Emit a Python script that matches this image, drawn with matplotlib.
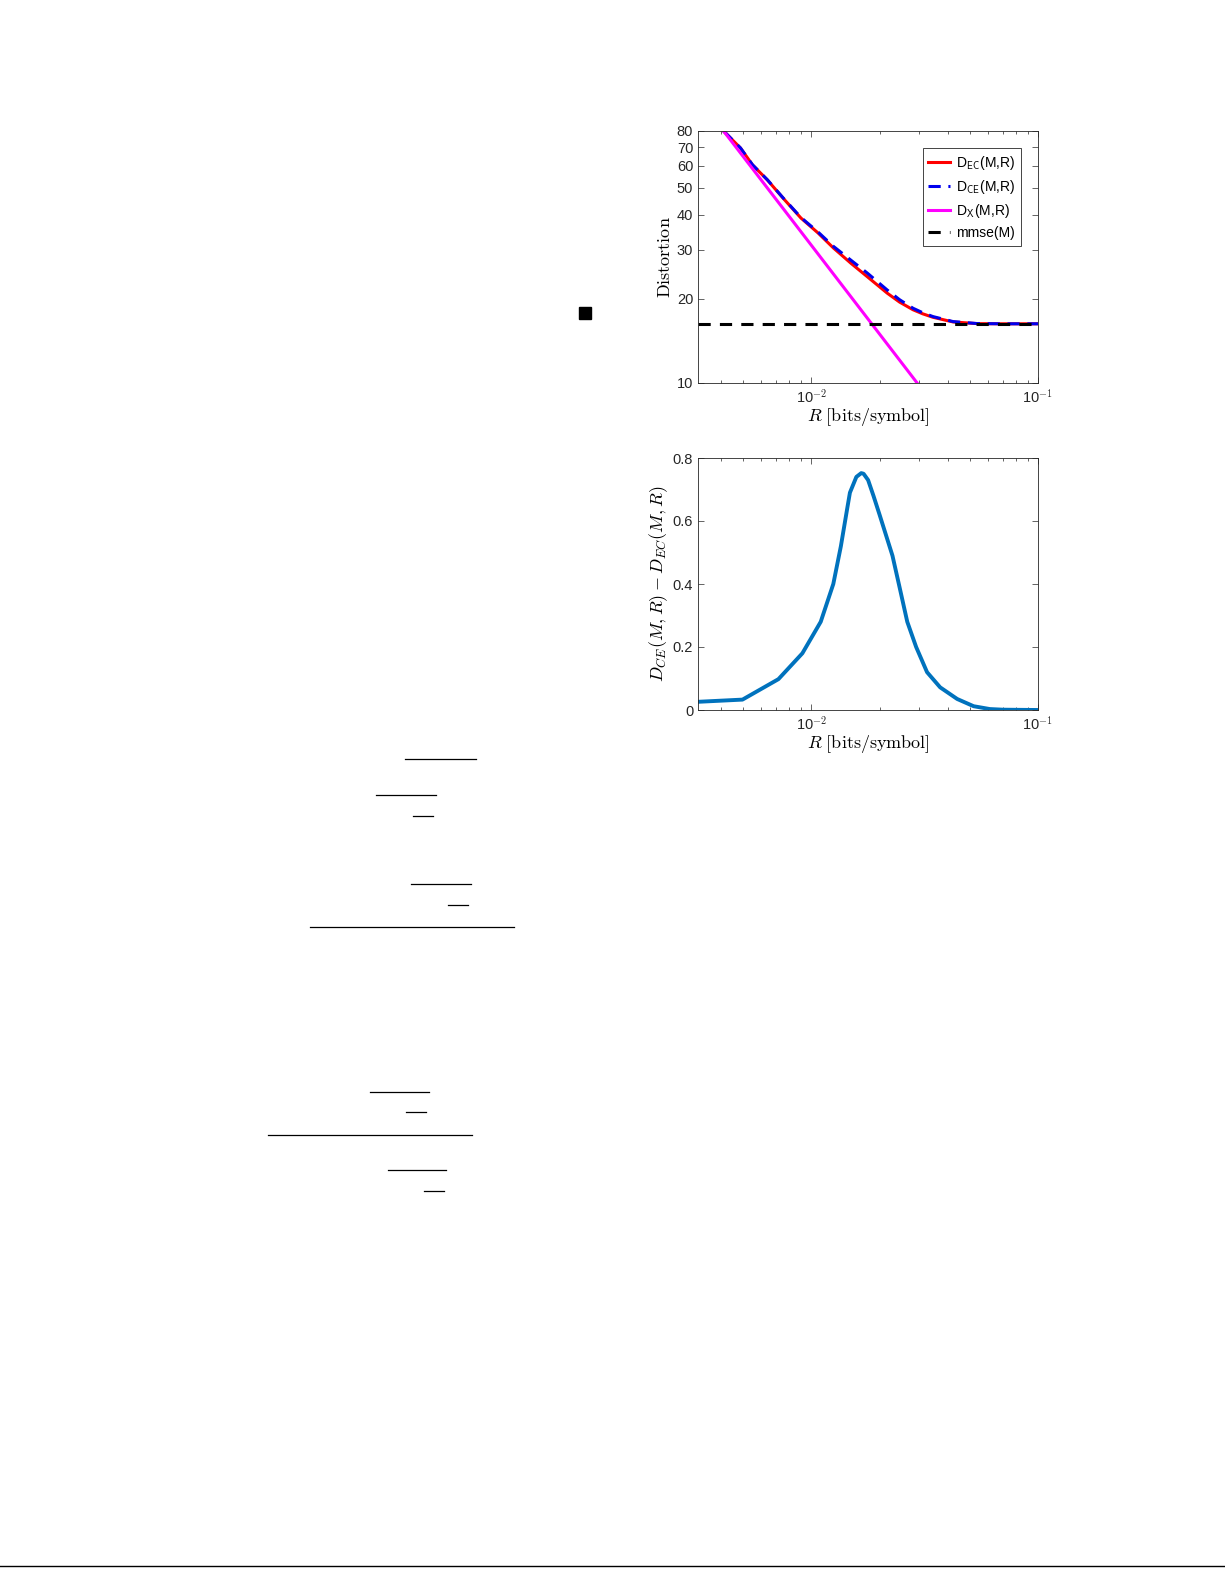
import matplotlib
matplotlib.use("Agg")
import matplotlib.pyplot as plt
from matplotlib.lines import Line2D
from matplotlib.patches import Rectangle
from matplotlib.ticker import FixedLocator, NullFormatter, LogLocator

plt.rcParams['mathtext.fontset'] = 'cm'
plt.rcParams['font.family'] = ['Liberation Sans', 'DejaVu Sans']

R = [0.0041, 0.00487, 0.0055, 0.0064, 0.0075, 0.009, 0.0107, 0.0125, 0.015, 0.0177,
     0.0216, 0.0245, 0.0281, 0.031, 0.0344, 0.0422, 0.054, 0.07, 0.1]
D_EC = [80, 69.5, 60.5, 53.4, 46, 39.0, 34.5, 30.5, 26.8, 24.0,
        21.0, 19.5, 18.3, 17.7, 17.2, 16.55, 16.32, 16.3, 16.3]
D_CE = [80.03, 69.53, 60.55, 53.48, 46.11, 39.18, 34.77, 30.9, 27.49, 24.73,
        21.55, 19.89, 18.53, 17.86, 17.3, 16.6, 16.33, 16.3, 16.3]
R_X = [0.0041, 0.0293]
D_X = [80, 10]
mmse = 16.3

R_diff = [0.00316, 0.00497, 0.00716, 0.00913, 0.011, 0.0125, 0.0135, 0.0144, 0.0148,
          0.0158, 0.0166, 0.0170, 0.0178, 0.0188, 0.0200, 0.0228, 0.0245, 0.0265,
          0.0290, 0.0324, 0.037, 0.044, 0.052, 0.0613, 0.07, 0.1]
diff = [0.026, 0.033, 0.098, 0.18, 0.28, 0.40, 0.52, 0.64, 0.69,
        0.74, 0.752, 0.75, 0.73, 0.68, 0.62, 0.49, 0.39, 0.28,
        0.20, 0.12, 0.072, 0.035, 0.012, 0.003, 0.001, 0.0]

fig = plt.figure(figsize=(12.25, 15.85), dpi=100)
W, H = 1225, 1585

def ax_at(l, t, r, b):
    return fig.add_axes([l / W, 1 - b / H, (r - l) / W, (b - t) / H])

def style(ax):
    for s in ax.spines.values():
        s.set_color('#262626'); s.set_linewidth(0.6)
    ax.tick_params(which='both', direction='in', top=True, right=True,
                   labelsize=10.5, colors='#262626', width=0.5)
    ax.tick_params(which='major', length=4)
    ax.tick_params(which='minor', length=2)

xlab = r'$R\ \mathrm{[bits/symbol]}$'
xtl = [r'10$^{\mathsf{-2}}$', r'10$^{\mathsf{-1}}$']

ax1 = ax_at(698, 131, 1038, 383)
ax1.plot(R, D_EC, color='#ff0000', lw=2.2, label=r'D$_{\mathsf{EC}}$(M,R)')
ax1.plot(R, D_CE, color='#0000ee', lw=2.2, ls=(0, (4, 2.5)), label=r'D$_{\mathsf{CE}}$(M,R)')
ax1.plot(R_X, D_X, color='#ff00ff', lw=2.2, label=r'D$_{\mathsf{X}}$(M,R)')
ax1.axhline(mmse, color='black', lw=2.2, ls=(0, (4, 3)), label='mmse(M)')
ax1.set_xscale('log'); ax1.set_yscale('log')
ax1.set_xlim(10 ** -2.5, 0.1); ax1.set_ylim(10, 80)
ax1.yaxis.set_major_locator(FixedLocator([10, 20, 30, 40, 50, 60, 70, 80]))
ax1.yaxis.set_minor_formatter(NullFormatter())
ax1.set_yticklabels(['10', '20', '30', '40', '50', '60', '70', '80'])
ax1.set_xticks([0.01, 0.1])
ax1.set_xticklabels(xtl)
ax1.xaxis.set_minor_locator(LogLocator(base=10, subs=range(2, 10)))
ax1.xaxis.set_minor_formatter(NullFormatter())
ax1.set_ylabel(r'$\mathrm{Distortion}$', fontsize=13, labelpad=2)
ax1.set_xlabel(xlab, fontsize=13, labelpad=0)
style(ax1)
leg = ax1.legend(loc='upper right', bbox_to_anchor=(0.97, 0.96), fontsize=10,
                 handlelength=1.6, handletextpad=0.4, borderpad=0.4,
                 labelspacing=0.45, fancybox=False, framealpha=1)
leg.get_frame().set_edgecolor('#262626'); leg.get_frame().set_linewidth(0.6)

ax2 = ax_at(698, 458, 1038, 710)
ax2.plot(R_diff, diff, color='#0072bd', lw=2.8)
ax2.set_xscale('log')
ax2.set_xlim(10 ** -2.5, 0.1); ax2.set_ylim(0, 0.8)
ax2.set_yticks([0, 0.2, 0.4, 0.6, 0.8])
ax2.set_yticklabels(['0', '0.2', '0.4', '0.6', '0.8'])
ax2.set_xticks([0.01, 0.1])
ax2.set_xticklabels(xtl)
ax2.xaxis.set_minor_locator(LogLocator(base=10, subs=range(2, 10)))
ax2.xaxis.set_minor_formatter(NullFormatter())
ax2.set_ylabel(r'$D_{CE}(M,R)-D_{EC}(M,R)$', fontsize=13, labelpad=2)
ax2.set_xlabel(xlab, fontsize=13, labelpad=0)
style(ax2)

# page artifacts
bars = [(405, 476, 759), (376, 436, 795), (413, 433, 816), (411, 471, 884),
        (448, 468, 905), (310, 514, 927), (370, 429, 1092), (406, 426, 1112),
        (268, 472, 1135), (388, 446, 1170), (424, 444, 1191)]
for x0, x1, y in bars:
    fig.add_artist(Line2D([x0 / W, x1 / W], [1 - y / H, 1 - y / H], color='black', lw=0.9))
fig.add_artist(Line2D([0, 1], [1 - 1566 / H, 1 - 1566 / H], color='black', lw=1.0))
fig.add_artist(Rectangle((579 / W, 1 - 319 / H), 12 / W, 12 / H, color='black'))

fig.savefig('out.png', dpi=100)
